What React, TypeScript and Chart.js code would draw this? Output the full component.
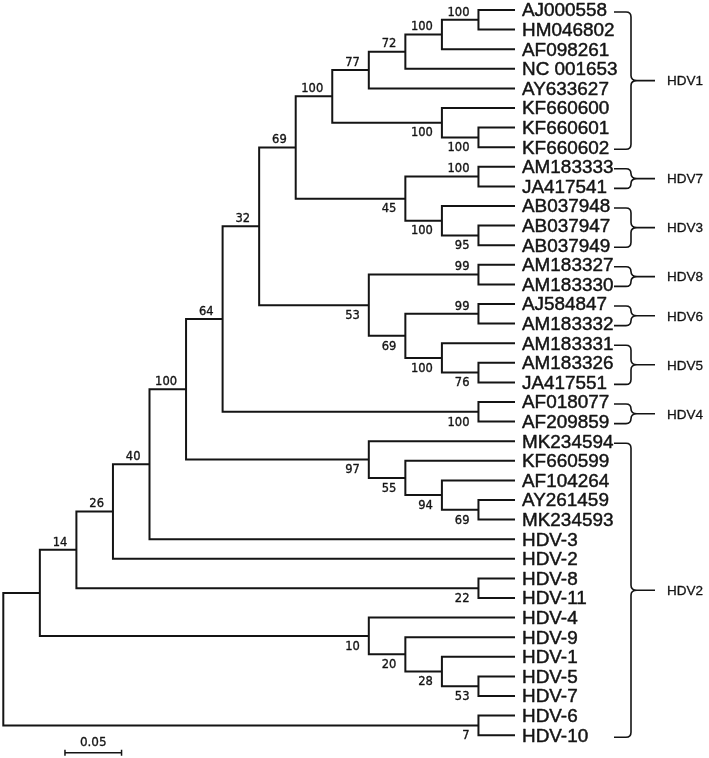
import React, { useEffect, useRef } from "react";
import { Chart, registerables } from "chart.js";

Chart.register(...registerables);

// ---------- data ----------
const tipLabels = [
  "AJ000558", "HM046802", "AF098261", "NC 001653", "AY633627",
  "KF660600", "KF660601", "KF660602",
  "AM183333", "JA417541",
  "AB037948", "AB037947", "AB037949",
  "AM183327", "AM183330",
  "AJ584847", "AM183332",
  "AM183331", "AM183326", "JA417551",
  "AF018077", "AF209859",
  "MK234594", "KF660599", "AF104264", "AY261459", "MK234593",
  "HDV-3", "HDV-2", "HDV-8", "HDV-11",
  "HDV-4", "HDV-9", "HDV-1", "HDV-5", "HDV-7",
  "HDV-6", "HDV-10",
];

// depth (substitutions/site from root) of every tip
const tipDepth = 0.4522;

// internal nodes: name, children (number = tip index, string = node name)
const nodeNames = [
  "n1", "n2", "n3", "n4", "n5", "n6", "n7", "n8", "n9", "n10",
  "n11", "n12", "n13", "n14", "n15", "n16", "n17", "n18", "n19", "n20",
  "n21", "n22", "n23", "n24", "n25", "n26", "n27", "n28", "n29", "n30",
  "n31", "n32", "n33", "n34", "n35", "n36", "root",
];
const nodeChildren: (number | string)[][] = [
  [0, 1], ["n1", 2], ["n2", 3], ["n3", 4], [6, 7], [5, "n5"], ["n4", "n6"],
  [8, 9], [11, 12], [10, "n9"], ["n8", "n10"], ["n7", "n11"],
  [13, 14], [15, 16], [18, 19], [17, "n15"], ["n14", "n16"], ["n13", "n17"],
  ["n12", "n18"], [20, 21], ["n19", "n20"],
  [25, 26], [24, "n22"], [23, "n23"], [22, "n24"], ["n21", "n25"],
  ["n26", 27], ["n27", 28], [29, 30], ["n28", "n29"],
  [34, 35], [33, "n31"], [32, "n32"], [31, "n33"], ["n30", "n34"],
  [36, 37], ["n35", "n36"],
];
const nodeDepth = [
  0.4199, 0.3876, 0.3553, 0.3230, 0.4199, 0.3876, 0.2907,
  0.4199, 0.4199, 0.3876, 0.3553, 0.2584,
  0.4199, 0.4199, 0.4199, 0.3876, 0.3553, 0.3230,
  0.2261, 0.4199, 0.1938,
  0.4199, 0.3876, 0.3553, 0.3230, 0.1615,
  0.1292, 0.0969, 0.4199, 0.0646,
  0.4199, 0.3876, 0.3553, 0.3230, 0.0323,
  0.4199, 0.0,
];
const nodeSupport: (number | null)[] = [
  100, 100, 72, 77, 100, 100, 100,
  100, 95, 100, 45, 69,
  99, 99, 76, 100, 69, 53,
  32, 100, 64,
  69, 94, 55, 97, 100,
  40, 26, 22, 14,
  53, 28, 20, 10, null,
  7, null,
];

// clades: label, first tip, last tip
const cladeNames = ["HDV1", "HDV7", "HDV3", "HDV8", "HDV6", "HDV5", "HDV4", "HDV2"];
const cladeFirst = [0, 8, 10, 13, 15, 17, 20, 22];
const cladeLast = [7, 9, 12, 14, 16, 19, 21, 37];

const scaleBarLength = 0.05;
const scaleBarLabel = "0.05";

// ---------- layout ----------
const W = 709;
const H = 758;
const X_MIN = -0.002916;
const X_MAX = X_MIN + W / 1131.6;
const Y_MIN = -10 / 19.6;
const Y_MAX = Y_MIN + H / 19.6;
const INK = "#141414";

type P = { x: number; y: number };

function layout() {
  const pos: Record<string, P> = {};
  const tipPos = (i: number): P => ({ x: tipDepth, y: i });
  const get = (c: number | string): P => (typeof c === "number" ? tipPos(c) : resolve(c));
  function resolve(name: string): P {
    if (pos[name]) return pos[name];
    const k = nodeNames.indexOf(name);
    const ch = nodeChildren[k].map(get);
    const p = { x: nodeDepth[k], y: (ch[0].y + ch[ch.length - 1].y) / 2 };
    pos[name] = p;
    return p;
  }
  nodeNames.forEach(resolve);
  const role: Record<string, "first" | "last"> = {};
  nodeChildren.forEach((ch) => {
    ch.forEach((c, j) => {
      if (typeof c === "string") role[c] = j === 0 ? "first" : "last";
    });
  });
  return { pos, get, role };
}

export default function App() {
  const ref = useRef<HTMLCanvasElement | null>(null);

  useEffect(() => {
    if (!ref.current) return;
    const { pos, get, role } = layout();

    const datasets = nodeNames.map((name, k) => {
      const p = pos[name];
      const ch = nodeChildren[k].map(get);
      const a = ch[0];
      const b = ch[ch.length - 1];
      return {
        label: name,
        data: [
          { x: a.x, y: a.y },
          { x: p.x, y: a.y },
          { x: p.x, y: b.y },
          { x: b.x, y: b.y },
        ],
        showLine: true,
        borderColor: INK,
        borderWidth: 2,
        pointRadius: 0,
        fill: false,
        tension: 0,
        borderJoinStyle: "miter" as const,
        clip: false as const,
      };
    });

    const annotate = {
      id: "treeText",
      afterDraw(chart: any) {
        const ctx: CanvasRenderingContext2D = chart.ctx;
        const xs = chart.scales.x;
        const ys = chart.scales.y;
        ctx.save();
        ctx.fillStyle = INK;
        ctx.strokeStyle = INK;
        ctx.lineJoin = "round";

        // tip labels
        const tipX = xs.getPixelForValue(tipDepth) + 7;
        ctx.font = '18px "Liberation Sans", Arial, sans-serif';
        ctx.textAlign = "left";
        ctx.textBaseline = "alphabetic";
        ctx.lineWidth = 0.45;
        tipLabels.forEach((t, i) => {
          const y = ys.getPixelForValue(i);
          ctx.save();
          ctx.translate(tipX, y + 6.4);
          ctx.scale(1.05, 1);
          ctx.fillText(t, 0, 0);
          ctx.strokeText(t, 0, 0);
          ctx.restore();
        });

        // bootstrap values
        ctx.font = '11.5px "DejaVu Sans", Verdana, sans-serif';
        ctx.textAlign = "right";
        ctx.lineWidth = 0.35;
        nodeNames.forEach((name, k) => {
          const s = nodeSupport[k];
          if (s === null) return;
          const p = pos[name];
          const px = xs.getPixelForValue(p.x) - 9;
          const py = ys.getPixelForValue(p.y);
          const cy = role[name] === "last" ? py + 9.5 : py - 8.5;
          ctx.fillText(String(s), px, cy + 4.2);
          ctx.strokeText(String(s), px, cy + 4.2);
        });

        // clade braces
        const x0 = 614, x1 = 631, x2 = 637, x3 = 655, r = 5;
        ctx.font = '13.5px "Liberation Sans", Arial, sans-serif';
        ctx.textAlign = "left";
        cladeNames.forEach((nm, c) => {
          const yt = ys.getPixelForValue(cladeFirst[c]) + 2;
          const yb = ys.getPixelForValue(cladeLast[c]) + 2;
          const ym = (yt + yb) / 2;
          ctx.lineWidth = 1.6;
          ctx.beginPath();
          ctx.moveTo(x0, yt);
          ctx.lineTo(x1 - r, yt);
          ctx.quadraticCurveTo(x1, yt, x1, yt + r);
          ctx.lineTo(x1, ym - r);
          ctx.quadraticCurveTo(x1, ym, x2, ym);
          ctx.quadraticCurveTo(x1, ym, x1, ym + r);
          ctx.lineTo(x1, yb - r);
          ctx.quadraticCurveTo(x1, yb, x1 - r, yb);
          ctx.lineTo(x0, yb);
          ctx.moveTo(x2, ym);
          ctx.lineTo(x3, ym);
          ctx.stroke();
          ctx.lineWidth = 0.3;
          ctx.fillText(nm, 667, ym + 4.8);
          ctx.strokeText(nm, 667, ym + 4.8);
        });

        // scale bar
        const sb0 = xs.getPixelForValue(0.0545);
        const sb1 = xs.getPixelForValue(0.0545 + scaleBarLength);
        const sy = ys.getPixelForValue(tipLabels.length - 1) + 17.5;
        ctx.lineWidth = 1.5;
        ctx.beginPath();
        ctx.moveTo(sb0, sy);
        ctx.lineTo(sb1, sy);
        ctx.moveTo(sb0, sy - 3);
        ctx.lineTo(sb0, sy + 3);
        ctx.moveTo(sb1, sy - 3);
        ctx.lineTo(sb1, sy + 3);
        ctx.stroke();
        ctx.font = '12px "DejaVu Sans", Verdana, sans-serif';
        ctx.textAlign = "center";
        ctx.lineWidth = 0.3;
        ctx.fillText(scaleBarLabel, (sb0 + sb1) / 2, sy - 11 + 4.4);
        ctx.strokeText(scaleBarLabel, (sb0 + sb1) / 2, sy - 11 + 4.4);
        ctx.restore();
      },
    };

    const chart = new Chart(ref.current, {
      type: "scatter",
      data: { datasets },
      options: {
        animation: false,
        responsive: false,
        maintainAspectRatio: false,
        events: [],
        layout: { padding: 0 },
        plugins: { legend: { display: false }, tooltip: { enabled: false } },
        scales: {
          x: { type: "linear", display: false, min: X_MIN, max: X_MAX },
          y: { type: "linear", display: false, reverse: true, min: Y_MIN, max: Y_MAX },
        },
      },
      plugins: [annotate],
    } as any);
    return () => chart.destroy();
  }, []);

  return (
    <div style={{ position: "absolute", left: 0, top: 0, width: W, height: H, background: "#fff" }}>
      <canvas ref={ref} width={W} height={H} style={{ display: "block" }} />
    </div>
  );
}
